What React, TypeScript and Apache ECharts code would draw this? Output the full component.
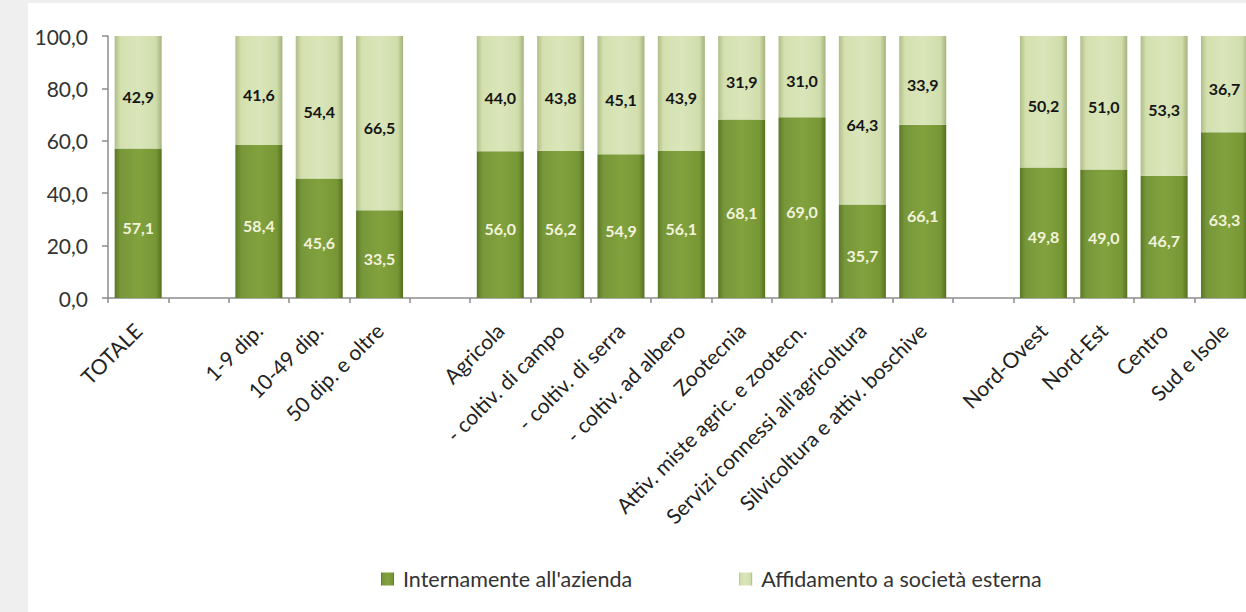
import React, { useEffect, useRef } from "react";
import * as echarts from "echarts";

const categories: string[] = [
  "TOTALE",
  "",
  "1-9 dip.",
  "10-49 dip.",
  "50 dip. e oltre",
  "",
  "Agricola",
  "- coltiv. di campo",
  "- coltiv. di serra",
  "- coltiv. ad albero",
  "Zootecnia",
  "Attiv. miste agric. e zootecn.",
  "Servizi connessi all'agricoltura",
  "Silvicoltura e attiv. boschive",
  "",
  "Nord-Ovest",
  "Nord-Est",
  "Centro",
  "Sud e Isole",
];

const interno: (number | null)[] = [
  57.1, null, 58.4, 45.6, 33.5, null, 56.0, 56.2, 54.9, 56.1, 68.1, 69.0, 35.7, 66.1, null, 49.8, 49.0, 46.7, 63.3,
];

const esterna: (number | null)[] = [
  42.9, null, 41.6, 54.4, 66.5, null, 44.0, 43.8, 45.1, 43.9, 31.9, 31.0, 64.3, 33.9, null, 50.2, 51.0, 53.3, 36.7,
];

const seriesNames = ["Internamente all'azienda", "Affidamento a società esterna"];
const yTicks = { min: 0, max: 100, interval: 20 };

const FONT = "Lato, 'Open Sans', sans-serif";

const fmt = (v: number) => v.toFixed(1).replace(".", ",");

const darkFill = new echarts.graphic.LinearGradient(0, 0, 1, 0, [
  { offset: 0, color: "#5b7824" },
  { offset: 0.12, color: "#76963a" },
  { offset: 0.5, color: "#82a23e" },
  { offset: 0.88, color: "#779736" },
  { offset: 1, color: "#56701f" },
]);

const lightFill = new echarts.graphic.LinearGradient(0, 0, 1, 0, [
  { offset: 0, color: "#aebd88" },
  { offset: 0.12, color: "#d3e0ae" },
  { offset: 0.5, color: "#dae6ba" },
  { offset: 0.88, color: "#d0ddab" },
  { offset: 1, color: "#a3b27c" },
]);

export default function App() {
  const ref = useRef<HTMLDivElement>(null);

  useEffect(() => {
    if (!ref.current) return;
    const chart = echarts.init(ref.current, undefined, { renderer: "svg" });
    const catW = 60.35;
    chart.setOption({
      animation: false,
      textStyle: { fontFamily: FONT },
      grid: { left: 80, top: 33, width: catW * categories.length, height: 262, containLabel: false },
      legend: {
        left: 348,
        top: 560,
        itemWidth: 13,
        itemHeight: 13,
        itemGap: 107,
        icon: "rect",
        selectedMode: false,
        textStyle: { fontFamily: FONT, fontSize: 21.5, color: "#333", padding: [0, 0, 0, 4] },
        data: seriesNames,
      },
      xAxis: {
        type: "category",
        data: categories,
        axisLine: { show: true, lineStyle: { color: "#8c8c8c", width: 1.5 } },
        axisTick: { show: true, length: 5, interval: 0, lineStyle: { color: "#8c8c8c", width: 1.5 } },
        axisLabel: {
          interval: 0,
          rotate: 45,
          margin: 3.5,
          verticalAlign: "top",
          padding: [7, 18, 0, 0],
          fontFamily: FONT,
          fontSize: 21,
          color: "#222",
        },
      },
      yAxis: {
        type: "value",
        min: yTicks.min,
        max: yTicks.max,
        interval: yTicks.interval,
        splitLine: { show: false },
        axisLine: { show: true, lineStyle: { color: "#8c8c8c", width: 1.5 } },
        axisTick: { show: true, length: 6, lineStyle: { color: "#8c8c8c", width: 1.5 } },
        axisLabel: {
          margin: 20,
          fontFamily: FONT,
          fontSize: 21,
          color: "#333",
          formatter: (v: number) => fmt(v),
        },
      },
      series: [
        {
          name: seriesNames[0],
          type: "bar",
          stack: "tot",
          barWidth: 47,
          data: interno,
          itemStyle: { color: darkFill },
          label: {
            show: true,
            position: "inside",
            offset: [0, 4],
            fontFamily: FONT,
            fontSize: 16,
            fontWeight: "bold",
            color: "#f3f3dc",
            formatter: (p: any) => fmt(p.value),
          },
          emphasis: { disabled: true },
        },
        {
          name: seriesNames[1],
          type: "bar",
          stack: "tot",
          barWidth: 47,
          data: esterna,
          itemStyle: { color: lightFill },
          label: {
            show: true,
            position: "inside",
            offset: [0, 4],
            fontFamily: FONT,
            fontSize: 16,
            fontWeight: "bold",
            color: "#151515",
            formatter: (p: any) => fmt(p.value),
          },
          emphasis: { disabled: true },
        },
      ],
    });
    return () => chart.dispose();
  }, []);

  return (
    <div
      style={{
        position: "fixed",
        left: 0,
        top: 0,
        width: 1246,
        height: 612,
        background: "#efefef",
        overflow: "hidden",
      }}
    >
      <div
        style={{
          position: "absolute",
          left: 28,
          top: 3,
          width: 1218,
          height: 609,
          background: "#ffffff",
          overflow: "hidden",
        }}
      >
        <div ref={ref} style={{ width: 1300, height: 609 }} />
      </div>
    </div>
  );
}
